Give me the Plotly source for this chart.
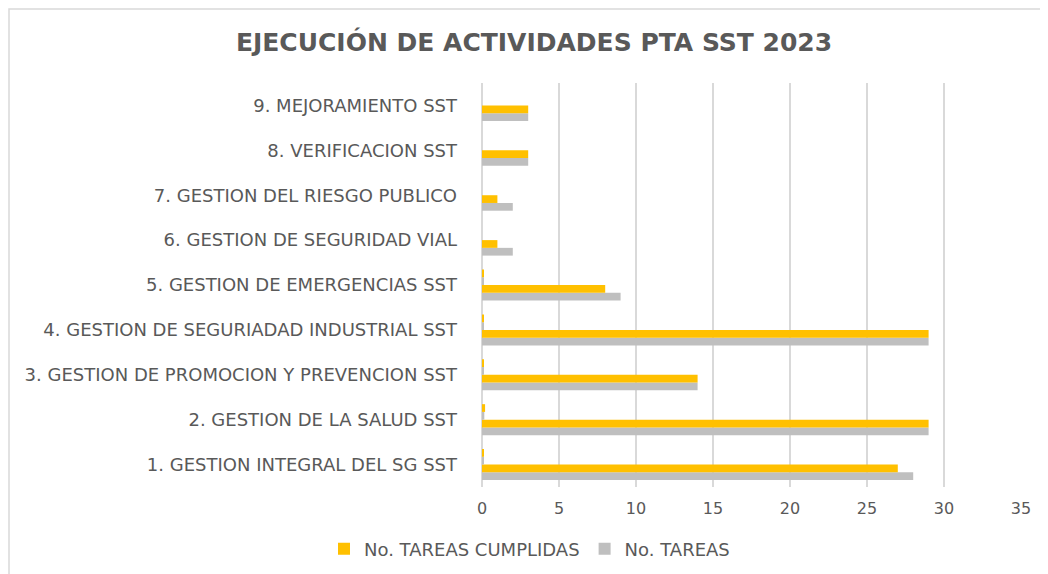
import plotly.graph_objects as go

categories = [
    "1. GESTION INTEGRAL DEL SG SST",
    "2. GESTION DE LA SALUD SST",
    "3. GESTION DE PROMOCION Y PREVENCION SST",
    "4. GESTION DE SEGURIADAD INDUSTRIAL SST",
    "5. GESTION DE EMERGENCIAS SST",
    "6. GESTION DE SEGURIDAD VIAL",
    "7. GESTION DEL RIESGO PUBLICO",
    "8. VERIFICACION SST",
    "9. MEJORAMIENTO SST",
]
tareas_cumplidas = [27, 29, 14, 29, 8, 1, 1, 3, 3]
tareas = [28, 29, 14, 29, 9, 2, 2, 3, 3]
# small secondary series (tiny bars near zero)
cumplidas_pct = [0.1, 0.2, 0.1, 0.1, 0.1, 0, 0, 0, 0]
tareas_pct = [0.1, 0.15, 0.1, 0.1, 0.1, 0, 0, 0, 0]
x_ticks = [0, 5, 10, 15, 20, 25, 30, 35]

YELLOW = "#FFC000"
GREY = "#BFBFBF"
TEXT = "#595959"
FONT = "DejaVu Sans"

fig = go.Figure()
fig.add_trace(go.Bar(y=categories, x=tareas, orientation="h", name="No. TAREAS",
                     marker=dict(color=GREY, line=dict(width=0)), legendrank=2))
fig.add_trace(go.Bar(y=categories, x=tareas_cumplidas, orientation="h", name="No. TAREAS CUMPLIDAS",
                     marker=dict(color=YELLOW, line=dict(width=0)), legendrank=1))
fig.add_trace(go.Bar(y=categories, x=tareas_pct, orientation="h", name="tareas_pct",
                     marker=dict(color=GREY, line=dict(width=0)), showlegend=False))
fig.add_trace(go.Bar(y=categories, x=cumplidas_pct, orientation="h", name="cumplidas_pct",
                     marker=dict(color=YELLOW, line=dict(width=0)), showlegend=False))

# page has an 8px body margin: work in page pixels, subtract offset
OFF = 8
W, H = 1048 - OFF, 574 - OFF
L, R, T, B = 482 - OFF, 1048 - 1021, 83 - OFF, 574 - 487
pw, ph = W - L - R, H - T - B

def px_x(p):
    return (p - OFF - L) / pw

def px_y(p):
    return (H - B - (p - OFF)) / ph

fig.update_layout(
    width=W, height=H,
    margin=dict(l=L, r=R, t=T, b=B, autoexpand=False),
    paper_bgcolor="white", plot_bgcolor="white",
    barmode="group", bargap=0.31, bargroupgap=0,
    font=dict(family=FONT, color=TEXT, size=15),
    title=dict(text="<b>EJECUCIÓN DE ACTIVIDADES PTA SST 2023</b>",
               x=px_x(534), xref="paper", xanchor="center",
               y=1 - (42 - OFF) / H, yanchor="middle",
               font=dict(family=FONT, size=25, color=TEXT)),
    xaxis=dict(range=[0, 35], tickvals=x_ticks, showgrid=True, gridcolor="#D9D9D9",
               gridwidth=2, zeroline=True, zerolinecolor="#D9D9D9", zerolinewidth=2,
               showline=False, ticks="", tickfont=dict(size=16, color=TEXT), ticklabelstandoff=10),
    yaxis=dict(type="category", categoryorder="array", categoryarray=categories,
               showgrid=False, zeroline=False, showline=False, ticks="",
               tickfont=dict(size=18, color=TEXT), ticklabelstandoff=24),
    legend=dict(orientation="h", x=px_x(324), xanchor="left", y=px_y(549), yanchor="middle",
                font=dict(size=18, color=TEXT), bgcolor="rgba(0,0,0,0)"),
    showlegend=True,
    shapes=[dict(type="rect", xref="paper", yref="paper",
                 x0=px_x(9), x1=px_x(1060), y0=px_y(600), y1=px_y(9),
                 line=dict(color="#D9D9D9", width=1.5), fillcolor="rgba(0,0,0,0)", layer="below")],
)

fig.write_html("out.html")
